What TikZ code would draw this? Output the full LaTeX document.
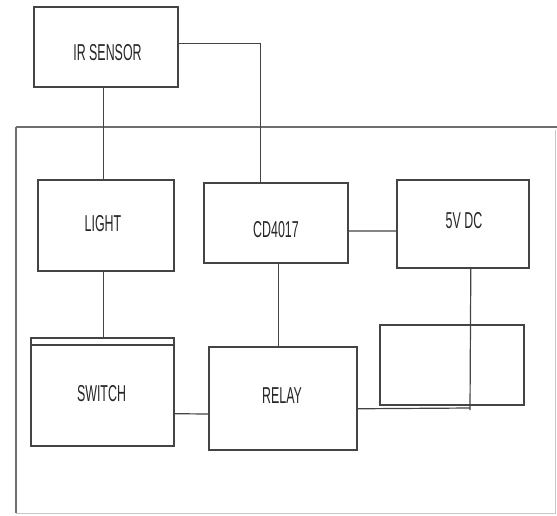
\documentclass[tikz,border=0pt]{standalone}
\usepackage{fontspec}
\setmainfont{Liberation Sans}[FakeStretch=0.54]
\usetikzlibrary{calc}
\definecolor{boxline}{HTML}{444444}
\definecolor{frameline}{HTML}{6E6E6E}
\definecolor{framelight}{HTML}{C8C8C8}
\tikzset{
  blk/.style={draw=boxline, line width=1.6pt, rectangle, inner sep=0pt, anchor=north west},
  lbl/.style={font=\fontsize{23}{26}\selectfont, text=black!85, inner sep=0pt},
  wire/.style={draw=boxline, line width=1.2pt}
}
\begin{document}
\begin{tikzpicture}[x=1pt,y=-1pt]
\useasboundingbox (0,0) rectangle (557,515);
% outer frame
\draw[frameline, line width=1.4pt] (16,127) -- (557,127);
\draw[frameline, line width=1.1pt] (16,127) -- (16,513);
\draw[framelight, line width=0.9pt] (16,513) -- (555,513) -- (555,130);
% blocks
\node[blk, minimum width=144pt, minimum height=80pt] (ir) at (33,6) {};
\node[blk, minimum width=136pt, minimum height=91pt] (light) at (37,179) {};
\node[blk, minimum width=144pt, minimum height=80pt] (cd) at (203,182) {};
\node[blk, minimum width=132pt, minimum height=88pt] (v5) at (396,179) {};
\node[blk, minimum width=143pt, minimum height=108pt] (sw) at (30,337) {};
\node[blk, minimum width=148pt, minimum height=103pt] (relay) at (208,346) {};
\node[blk, line width=1.5pt, minimum width=144pt, minimum height=80pt] (empty) at (379,324) {};
% labels
\node[lbl] (irt) at (107.5,52.5) {IR SENSOR};
\node[lbl] (lightt) at (103,224) {LIGHT};
\node[lbl] (cdt) at (276,230) {CD4017};
\node[lbl] (v5t) at (464,220.5) {5V DC};
\node[lbl] (swt) at (101.5,394) {SWITCH};
\node[lbl] (relayt) at (282,396) {RELAY};
% switch double top edge
\draw[boxline, line width=1.6pt] ([yshift=-8pt]sw.north west) -- ([yshift=-8pt]sw.north east);
% connectors
\coordinate (k) at (470,408);
\draw[wire] ([xshift=-2pt]ir.south) -- ([xshift=-2pt]light.north);
\draw[wire] ($(ir.north east)!0.46!(ir.south east)$) -| ([xshift=-15pt]cd.north);
\draw[wire] ([xshift=-2pt]light.south) -- ([xshift=-2pt]light.south |- sw.north);
\draw[wire] ($(cd.north east)!0.6!(cd.south east)$) -- ($(v5.north west)!0.58!(v5.south west)$);
\draw[wire] ([xshift=3pt]cd.south) -- ([xshift=3pt]cd.south |- relay.north);
\draw[wire] ($(sw.north east)!0.70!(sw.south east)$) -- ($(relay.north west)!0.65!(relay.south west)$);
\draw[wire] ($(relay.north east)!0.6!(relay.south east)$) -- (k);
\draw[wire] ([xshift=8pt]v5.south) -- ([yshift=-2pt]k);
\end{tikzpicture}
\end{document}
